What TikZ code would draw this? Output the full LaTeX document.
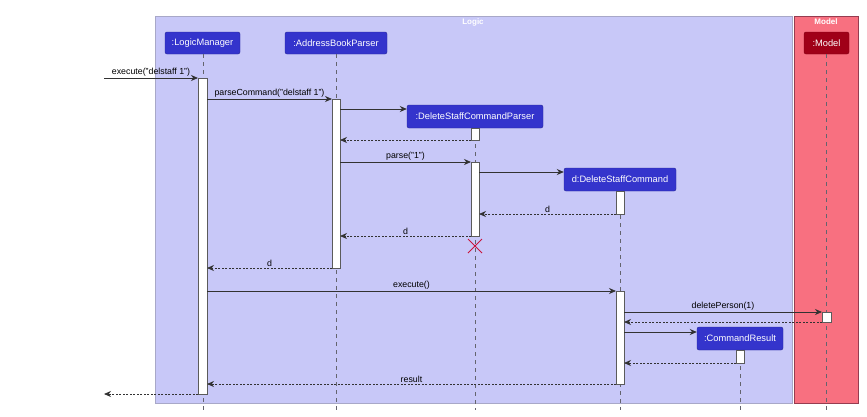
\documentclass[tikz,border=0pt]{standalone}
\usepackage{fontspec}
\setmainfont{Liberation Sans}
\usetikzlibrary{arrows.meta}
\definecolor{logicbg}{RGB}{200,200,248}
\definecolor{logicbd}{RGB}{168,168,200}
\definecolor{modelbg}{RGB}{248,112,128}
\definecolor{modelbd}{RGB}{150,60,80}
\definecolor{hdrblue}{RGB}{52,52,204}
\definecolor{hdrbluebd}{RGB}{40,40,150}
\definecolor{hdrred}{RGB}{160,0,24}
\definecolor{lifec}{RGB}{100,100,110}
\definecolor{msgc}{RGB}{50,50,50}
\definecolor{killc}{RGB}{200,20,60}
\tikzset{
  hdr/.style={draw=hdrbluebd, fill=hdrblue, rounded corners=2pt, text=white, font=\fontsize{9.3}{11}\selectfont, inner sep=0pt, minimum height=22},
  life/.style={draw=lifec, line width=0.6pt, dash pattern=on 4pt off 4pt},
  act/.style={draw=msgc!80, fill=white, line width=0.7pt},
  msg/.style={draw=msgc, line width=0.8pt, -{Stealth[length=7pt,width=6pt,inset=2.2pt]}},
  ret/.style={msg, dash pattern=on 2pt off 1.5pt},
  lbl/.style={midway, above, inner sep=1.5pt, font=\fontsize{8.8}{10}\selectfont, text=black},
  ttl/.style={text=white, font=\bfseries\fontsize{8}{9}\selectfont, inner sep=0pt}
}
\begin{document}
\begin{tikzpicture}[x=1pt,y=-1pt]
\useasboundingbox (0,0) rectangle (867,416);
% groups
\path[fill=logicbg, draw=logicbd, line width=0.8pt] (155,16) rectangle (792,403);
\path[fill=modelbg, draw=modelbd, line width=0.8pt] (794,16) rectangle (858,403);
\node[ttl] (tlogic) at (473,22) {Logic};
\node[ttl] (tmodel) at (826,22) {Model};
% headers
\node[hdr, minimum width=75] (lm) at (202.5,43) {:LogicManager};
\node[hdr, minimum width=102] (abp) at (336,43) {:AddressBookParser};
\node[hdr, minimum width=45, fill=hdrred, draw=hdrred!80!black] (mdl) at (826.5,43) {:Model};
\node[hdr, minimum width=136, minimum height=23] (dscp) at (475,116.5) {:DeleteStaffCommandParser};
\node[hdr, minimum width=112, minimum height=23] (dsc) at (620,179.5) {d:DeleteStaffCommand};
\node[hdr, minimum width=86, minimum height=23] (cr) at (740,338.5) {:CommandResult};
% lifeline ends
\coordinate (lmE) at (203,410);
\coordinate (abpE) at (336,410);
\coordinate (mdlE) at (826.5,410);
\coordinate (dscpE) at (475,410);
\coordinate (dscE) at (620,410);
\coordinate (crE) at (740,410);
\draw[life] (lm.south -| lmE) -- (lmE);
\draw[life] (abp.south) -- (abpE);
\draw[life] (mdl.south) -- (mdlE);
\draw[life] (dscp.south) -- (dscpE);
\draw[life] (dsc.south) -- (dscE);
\draw[life] (cr.south) -- (crE);
% activations
\path[act] (198,78) rectangle (207,394);
\path[act] (332,99) rectangle (340,268);
\path[act] (471,128) rectangle (479,140);
\path[act] (471,162) rectangle (479,236);
\path[act] (616,191) rectangle (624,214);
\path[act] (616,291) rectangle (624,384);
\path[act] (822,312) rectangle (831,322);
\path[act] (736,350) rectangle (744,363);
% message endpoints
\coordinate (in0) at (104,78);   \coordinate (lmA) at (198,78);
\coordinate (lmB) at (207,99);   \coordinate (abpA) at (332,99);
\coordinate (abpB) at (340,109);
\coordinate (dscpR) at (471,140); \coordinate (abpC) at (340,140);
\coordinate (abpD) at (340,162); \coordinate (dscpA) at (471,162);
\coordinate (dscpB) at (479,172);
\coordinate (dscR) at (616,214); \coordinate (dscpC) at (479,214);
\coordinate (dscpD) at (471,236); \coordinate (abpF) at (340,236);
\coordinate (abpR) at (332,268); \coordinate (lmC) at (207,268);
\coordinate (lmD) at (207,291);  \coordinate (dscA) at (616,291);
\coordinate (dscB) at (624,312); \coordinate (mdlA) at (822,312);
\coordinate (mdlR) at (822,322); \coordinate (dscC) at (624,322);
\coordinate (dscD) at (624,332);
\coordinate (crR) at (736,363);  \coordinate (dscF) at (624,363);
\coordinate (dscG) at (616,384); \coordinate (lmF) at (207,384);
\coordinate (lmG) at (198,394);  \coordinate (out0) at (104,394);
% messages
\draw[msg] (in0) -- node[lbl] {execute("delstaff 1")} (lmA);
\draw[msg] (lmB) -- node[lbl] {parseCommand("delstaff 1")} (abpA);
\draw[msg] (abpB) -- (abpB -| dscp.west);
\draw[ret] (dscpR) -- (abpC);
\draw[msg] (abpD) -- node[lbl] {parse("1")} (dscpA);
\draw[msg] (dscpB) -- (dscpB -| dsc.west);
\draw[ret] (dscR) -- node[lbl] {d} (dscpC);
\draw[ret] (dscpD) -- node[lbl] {d} (abpF);
\draw[ret] (abpR) -- node[lbl] {d} (lmC);
\draw[msg] (lmD) -- node[lbl] {execute()} (dscA);
\draw[msg] (dscB) -- node[lbl] {deletePerson(1)} (mdlA);
\draw[ret] (mdlR) -- (dscC);
\draw[msg] (dscD) -- (dscD -| cr.west);
\draw[ret] (crR) -- (dscF);
\draw[ret] (dscG) -- node[lbl] {result} (lmF);
\draw[ret] (lmG) -- (out0);
% destroy
\coordinate (xk) at (475,246);
\draw[killc, line width=1pt] ([shift={(-7,-7)}]xk) -- ([shift={(7,7)}]xk) ([shift={(-7,7)}]xk) -- ([shift={(7,-7)}]xk);
\end{tikzpicture}
\end{document}
